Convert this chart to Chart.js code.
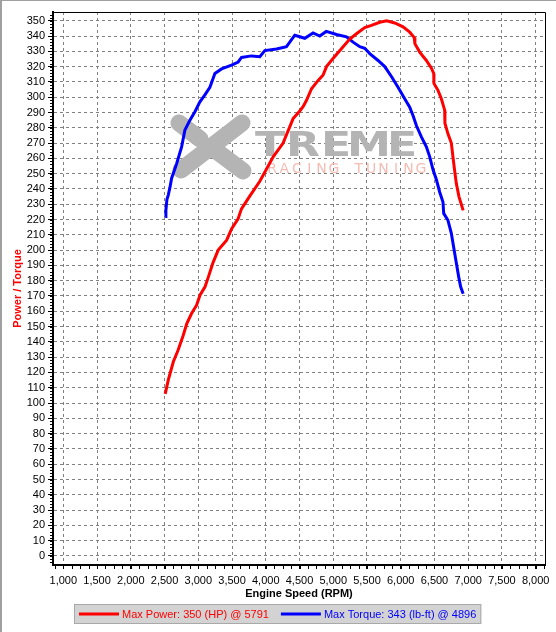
<!DOCTYPE html>
<html lang="en">
<head>
<meta charset="utf-8">
<title>Dyno - Power / Torque</title>
<script src="https://cdn.jsdelivr.net/npm/chart.js@4.4.1/dist/chart.umd.min.js"></script>
<style>
    html, body { margin: 0; padding: 0; background: #fff; }
    #wrap { width: 556px; height: 632px; }
</style>
</head>
<body>
<div id="wrap"><canvas id="dyno" width="556" height="632"></canvas></div>
<script>
// ─── Data ─────────────────────────────────────────────
const powerRpm   = [2510, 2555, 2630, 2700, 2775, 2830, 2900, 2975, 3025, 3100, 3150, 3220, 3295, 3420, 3495,
                    3590, 3640, 3765, 3912, 4110, 4257, 4405, 4504, 4555, 4604, 4678, 4776, 4850, 4900, 5000,
                    5146, 5245, 5344, 5467, 5566, 5689, 5791, 5911, 6034, 6133, 6200, 6210, 6281, 6380, 6455,
                    6489, 6492, 6552, 6602, 6651, 6655, 6700, 6750, 6774, 6799, 6824, 6863, 6925];
const powerHp    = [106, 115, 127, 134.5, 144, 152, 158.5, 164, 170.5, 176, 182.5, 192, 200, 206.5, 214,
                    220.5, 227, 235.5, 245, 261, 270, 286, 291, 294, 298, 305.5, 311, 314.5, 320, 325.5,
                    333, 338, 341.5, 345.5, 347, 349, 350, 348.5, 346, 342.5, 339, 335, 329.5, 324, 319,
                    315.5, 309, 304.5, 299, 291.5, 283, 276, 270, 261, 252, 243.5, 235, 226];

const torqueRpm  = [2510, 2520, 2535, 2555, 2580, 2605, 2679, 2753, 2802, 2876, 2950, 3024, 3098, 3172, 3246,
                    3345, 3493, 3591, 3641, 3789, 3912, 3986, 4159, 4307, 4430, 4504, 4578, 4701, 4800, 4896,
                    5048, 5196, 5294, 5393, 5467, 5541, 5664, 5763, 5862, 5960, 6059, 6133, 6182, 6232, 6306,
                    6380, 6430, 6479, 6529, 6577, 6626, 6637, 6700, 6750, 6784, 6824, 6859, 6888, 6925];
const torqueLbft = [222, 226, 233, 236, 241, 247, 256.5, 267.5, 278.5, 285, 290.5, 297, 301.5, 306.5, 315.5,
                    318.5, 321, 323, 326, 327, 326.5, 330.5, 331.5, 333, 340.5, 339.5, 338.5, 342, 340, 343,
                    341, 339.5, 336, 333, 332, 328.5, 324, 320, 313.5, 306.5, 299, 293.5, 288, 281.5, 274,
                    267.5, 261, 252.5, 246, 238, 231.5, 224, 219.5, 211, 202, 191.5, 182.5, 176, 171.5];

const seriesLabels = ['Max Power: 350 (HP) @ 5791', 'Max Torque: 343 (lb-ft) @ 4896'];

const rpmTicks   = [1000, 1500, 2000, 2500, 3000, 3500, 4000, 4500, 5000, 5500, 6000, 6500, 7000, 7500, 8000];
const valueTicks = [0, 10, 20, 30, 40, 50, 60, 70, 80, 90, 100, 110, 120, 130, 140, 150, 160, 170,
                    180, 190, 200, 210, 220, 230, 240, 250, 260, 270, 280, 290, 300, 310, 320, 330, 340, 350];

// ─── Look ─────────────────────────────────────────────
const FONT_FAMILY = '"Liberation Sans", Arial, sans-serif';
const tickFont    = { family: FONT_FAMILY, size: 11 };
const titleFont   = { family: FONT_FAMILY, size: 11, weight: 'bold' };
const RED  = '#ff0000';
const BLUE = '#0000ff';

const gridOpts = len => ({
    color: '#808080',
    lineWidth: 1,
    tickLength: len,
    tickColor: '#000',
    tickWidth: 1,
    tickBorderDash: [],
});
const borderOpts = { display: true, color: '#000', width: 2, dash: [3, 3] };

// ─── Plugins ──────────────────────────────────────────
// panel background + sunken grey edge
const panelFrame = {
    id: 'panelFrame',
    beforeDraw(chart) {
        const { ctx, width, height } = chart;
        ctx.save();
        ctx.fillStyle = '#fff';
        ctx.fillRect(0, 0, width, height);
        ctx.fillStyle = '#a0a0a0';
        ctx.fillRect(0, 0, width, 1);
        ctx.fillRect(0, 0, 2, height);
        ctx.restore();
    },
};

// faded company logo behind the curves
const watermark = {
    id: 'watermark',
    beforeDatasetsDraw(chart) {
        const { ctx, chartArea: a } = chart;
        const L = a.left, T = a.top;
        ctx.save();
        ctx.strokeStyle = '#b4b4b4';
        ctx.lineWidth = 17;
        ctx.lineCap = 'round';
        ctx.beginPath();
        ctx.moveTo(L + 189, T + 111);
        ctx.lineTo(L + 128, T + 158);
        ctx.moveTo(L + 126, T + 111);
        ctx.lineTo(L + 147, T + 127);
        ctx.moveTo(L + 162, T + 138);
        ctx.lineTo(L + 190, T + 159);
        ctx.stroke();

        ctx.fillStyle = '#b4b4b4';
        ctx.font = 'bold 34px "DejaVu Sans", sans-serif';
        ctx.textAlign = 'center';
        ctx.textBaseline = 'alphabetic';
        'TREME'.split('').forEach((ch, i) => {
            ctx.save();
            ctx.translate(L + 217 + 33 * i, T + 144);
            ctx.scale(1.3, 1);
            ctx.fillText(ch, 0, 0);
            ctx.restore();
        });

        ctx.fillStyle = '#f6bcb4';
        ctx.font = '14px "DejaVu Sans", sans-serif';
        'RACING TUNING'.split('').forEach((ch, i) => {
            ctx.fillText(ch, L + 219 + 12.4 * i, T + 161);
        });
        ctx.restore();
    },
};

// small unlabeled ticks along both axes + thin top/right frame
const axisDetail = {
    id: 'axisDetail',
    afterDraw(chart) {
        const { ctx, chartArea: a, scales: { x, y } } = chart;
        ctx.save();
        ctx.strokeStyle = '#000';
        ctx.lineWidth = 1;
        ctx.beginPath();
        ctx.moveTo(a.left, a.top + 0.5);
        ctx.lineTo(a.right + 0.5, a.top + 0.5);
        ctx.lineTo(a.right + 0.5, a.bottom);
        for (let v = 875; v < x.max; v += 125) {
            const px = Math.round(x.getPixelForValue(v)) + 0.5;
            ctx.moveTo(px, a.bottom + 1);
            ctx.lineTo(px, a.bottom + 4);
        }
        for (let v = -4; v < y.max; v += 2) {
            const py = Math.round(y.getPixelForValue(v)) + 0.5;
            ctx.moveTo(a.left - 3, py);
            ctx.lineTo(a.left - 1, py);
        }
        ctx.stroke();
        ctx.restore();
    },
};

// grey legend strip under the axis title
const legendStrip = {
    id: 'legendStrip',
    afterDraw(chart) {
        const { ctx } = chart;
        ctx.save();
        ctx.font = `11px ${FONT_FAMILY}`;
        const items = chart.data.datasets.map(ds => ({
            text: ds.label,
            color: ds.borderColor,
            w: ctx.measureText(ds.label).width,
        }));
        const lineLen = 40, gap = 3, itemGap = 12, pad = 5, h = 20;
        const total = pad * 2 + items.reduce((s, it) => s + lineLen + gap + it.w, 0) + itemGap * (items.length - 1);
        const left = Math.round((chart.width - total) / 2);
        const top = chart.height - 28;
        ctx.fillStyle = '#d3d3d3';
        ctx.fillRect(left, top, total, h);
        ctx.strokeStyle = '#a9a9a9';
        ctx.strokeRect(left + 0.5, top + 0.5, total - 1, h - 1);

        let cx = left + pad;
        const cy = top + h / 2;
        ctx.textBaseline = 'middle';
        items.forEach(it => {
            ctx.fillStyle = it.color;
            ctx.fillRect(cx, cy - 1.5, lineLen, 3);
            cx += lineLen + gap;
            ctx.fillText(it.text, cx, cy + 0.5);
            cx += it.w + itemGap;
        });
        ctx.restore();
    },
};

// ─── Chart ───────────────────────────────────────────
const toPoints = (xs, ys) => xs.map((v, i) => ({ x: v, y: ys[i] }));

new Chart(document.getElementById('dyno'), {
    type: 'line',
    data: {
        datasets: [
            {
                label: seriesLabels[0],
                data: toPoints(powerRpm, powerHp),
                borderColor: RED,
                backgroundColor: RED,
                borderWidth: 3,
                pointRadius: 0,
                tension: 0,
                fill: false,
            },
            {
                label: seriesLabels[1],
                data: toPoints(torqueRpm, torqueLbft),
                borderColor: BLUE,
                backgroundColor: BLUE,
                borderWidth: 3,
                pointRadius: 0,
                tension: 0,
                fill: false,
            },
        ],
    },
    options: {
        responsive: false,
        animation: false,
        events: [],
        layout: { padding: { left: 0, top: 12, right: 11, bottom: 28 } },
        plugins: {
            legend: { display: false },
            tooltip: { enabled: false },
        },
        scales: {
            x: {
                type: 'linear',
                min: 847,
                max: 8138,
                afterBuildTicks: s => { s.ticks = rpmTicks.map(v => ({ value: v })); },
                afterFit: s => { s.height = 39; },
                grid: gridOpts(4),
                border: borderOpts,
                ticks: {
                    color: '#000',
                    font: tickFont,
                    padding: 5,
                    maxRotation: 0,
                    autoSkip: false,
                    callback: v => v.toLocaleString('en-US'),
                },
                title: {
                    display: true,
                    text: 'Engine Speed (RPM)',
                    color: '#000',
                    font: titleFont,
                    padding: { top: 0, bottom: 3 },
                },
            },
            y: {
                type: 'linear',
                min: -5.9,
                max: 355.7,
                afterBuildTicks: s => { s.ticks = valueTicks.map(v => ({ value: v })); },
                afterFit: s => { s.width = 53; },
                grid: gridOpts(5),
                border: borderOpts,
                ticks: {
                    color: '#000',
                    font: tickFont,
                    padding: 3,
                    autoSkip: false,
                },
                title: {
                    display: true,
                    text: 'Power / Torque',
                    color: RED,
                    font: titleFont,
                    padding: { top: 11, bottom: 0 },
                },
            },
        },
    },
    plugins: [panelFrame, watermark, axisDetail, legendStrip],
});
</script>
</body>
</html>
